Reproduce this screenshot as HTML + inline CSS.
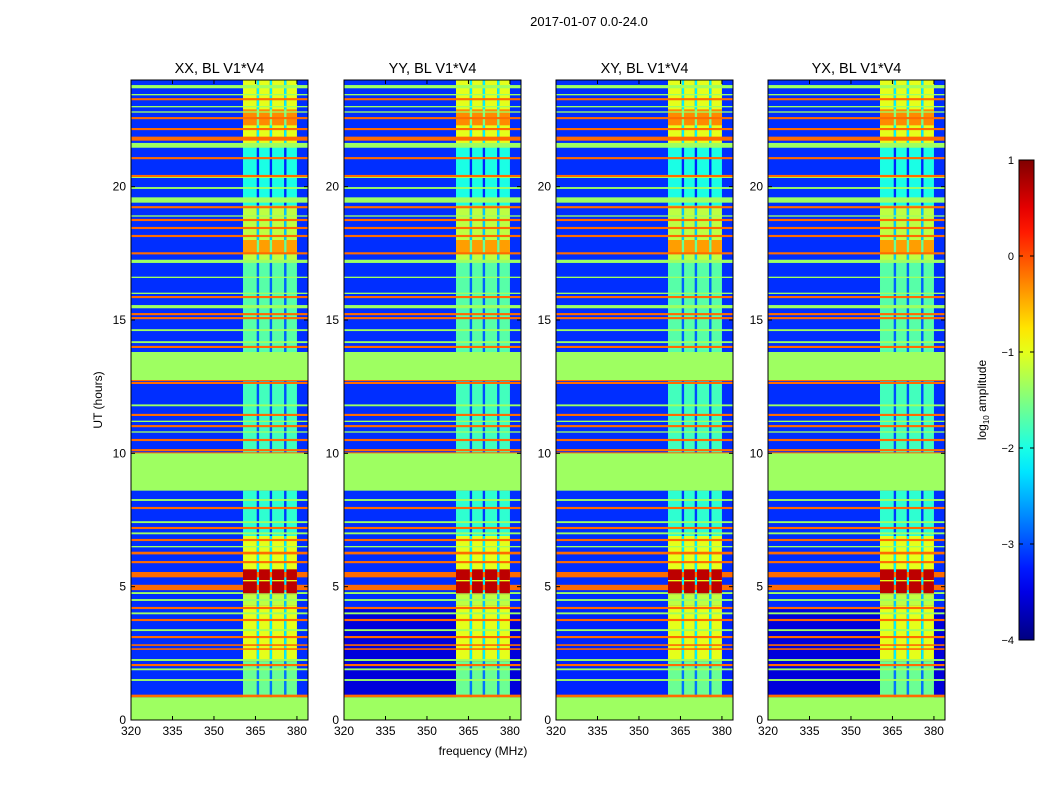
<!DOCTYPE html>
<html><head><meta charset="utf-8">
<style>
body{margin:0;background:#fff;font-family:"Liberation Sans",sans-serif;}
svg text{font-family:"Liberation Sans",sans-serif;fill:#000;}
</style></head>
<body>
<svg id="fig" width="1050" height="800" viewBox="0 0 1050 800" xmlns="http://www.w3.org/2000/svg">
<rect width="1050" height="800" fill="#fff"/>
<text x="589" y="26" font-size="13" text-anchor="middle">2017-01-07 0.0-24.0</text>
</svg>
<script>
const panelTitles = ["XX, BL V1*V4","YY, BL V1*V4","XY, BL V1*V4","YX, BL V1*V4"];
const xTicks = [320,335,350,365,380];
const yTicks = [0,5,10,15,20];
const cbTicks = [1,0,-1,-2,-3,-4];
const cbTickLabels = ["1","0","\u22121","\u22122","\u22123","\u22124"];
const panelBg = [-3.15,-3.15,-3.15,-3.15];
const panelLowBg = [-3.15,-3.55,-3.2,-3.55];
const lowRange = [0.9,4.2];
const bandCols = [[360.5,365.5],[366.3,370.2],[371,375.4],[376.2,380]];
const bandGaps = [[365.5,366.3],[370.2,371],[375.4,376.2]];
const bandSegs = [[0.85,2.2,-1.6],[2.2,4.3,-1.0],[4.3,4.7,-1.2],[4.7,5.7,-1.0],[5.7,6.9,-1.0],[6.9,8.6,-1.9],[10,12.7,-1.8],[13.8,17.2,-1.7],[17.2,19.3,-1.2],[17.5,18.0,-0.4],[19.3,21.5,-2.0],[21.5,24,-1.0],[22.3,22.9,-0.3]];
const orangeLines = [[23.28,0.08],[22.57,0.08],[22.16,0.08],[21.8,0.15],[21.07,0.08],[20.4,0.08],[19.23,0.08],[18.75,0.08],[18.45,0.08],[18.15,0.08],[17.5,0.08],[15.86,0.08],[15.22,0.08],[15.07,0.08],[13.99,0.08],[13.16,0.08],[12.75,0.08],[12.64,0.08],[11.44,0.08],[11.02,0.08],[10.5,0.08],[10.12,0.08],[10.01,0.06],[7.95,0.08],[7.2,0.08],[6.75,0.08],[6.26,0.1],[5.92,0.08],[5.45,0.2],[4.97,0.2],[4.2,0.08],[3.75,0.08],[3.11,0.08],[2.81,0.06],[2.66,0.06],[2.06,0.08],[0.9,0.1]];
const orangeValue = -0.15;
const greenLines = [[23.75,0.12],[23.45,0.05],[23.0,0.05],[22.8,0.05],[21.55,0.18],[20.36,0.07],[19.95,0.07],[19.5,0.2],[18.9,0.05],[17.2,0.12],[16.6,0.05],[16.0,0.05],[15.5,0.12],[14.62,0.07],[14.17,0.07],[11.8,0.07],[11.2,0.05],[10.8,0.05],[8.25,0.07],[7.42,0.07],[7.0,0.07],[6.5,0.05],[4.76,0.07],[4.5,0.07],[4.0,0.07],[3.37,0.07],[2.25,0.07],[1.9,0.07],[1.5,0.07]];
const greenValue = -1.35;
const greenBlocks = [[0,0.85],[8.6,10.0],[12.75,13.8]];
const hotSegs = [[4.75,5.2,0.7],[5.25,5.65,0.7]];

const vmin=-4, vmax=1;
function jet(v){
  let t=(v-vmin)/(vmax-vmin); t=Math.max(0,Math.min(1,t));
  const c=x=>Math.round(255*Math.max(0,Math.min(1,x)));
  return `rgb(${c(1.5-Math.abs(4*t-3))},${c(1.5-Math.abs(4*t-2))},${c(1.5-Math.abs(4*t-1))})`;
}
const svg=document.getElementById('fig');
const NS="http://www.w3.org/2000/svg";
function mk(tag,attrs,parent){const e=document.createElementNS(NS,tag);for(const k in attrs)e.setAttribute(k,attrs[k]);(parent||svg).appendChild(e);return e;}
const px=[131,344,556,768], pw=177, ptop=80, pbot=720;
const fmin=320,fmax=384,hmin=0,hmax=24;
panelTitles.forEach((title,i)=>{
  const x0=px[i];
  const xs=f=>x0+(f-fmin)/(fmax-fmin)*pw;
  const ys=h=>pbot-(h-hmin)/(hmax-hmin)*(pbot-ptop);
  const g=mk('g',{});
  
  
  const bg=mk('rect',{x:x0,y:ptop,width:pw,height:pbot-ptop,fill:jet(panelBg[i])},g);
  
  
  const lo=mk('rect',{x:x0,y:ys(lowRange[1]),width:pw,height:ys(lowRange[0])-ys(lowRange[1]),fill:jet(panelLowBg[i])},g);
  
  
  bandSegs.forEach(s=>{
    bandCols.forEach(c=>{
      const r=mk('rect',{x:xs(c[0]),y:ys(s[1]),width:xs(c[1])-xs(c[0]),height:ys(s[0])-ys(s[1]),fill:jet(s[2])},g);
      
      
    });
    bandGaps.forEach(c=>{
      const r=mk('rect',{x:xs(c[0]),y:ys(s[1]),width:xs(c[1])-xs(c[0]),height:ys(s[0])-ys(s[1]),fill:jet(s[2]-1.2)},g);
      
      
    });
  });
  greenLines.forEach(l=>{
    const r=mk('rect',{x:x0,y:ys(l[0]+l[1]/2),width:pw,height:Math.max(1,l[1]*(pbot-ptop)/24),fill:jet(greenValue)},g);
    
    
  });
  orangeLines.forEach(l=>{
    const r=mk('rect',{x:x0,y:ys(l[0]+l[1]/2),width:pw,height:Math.max(1,l[1]*(pbot-ptop)/24),fill:jet(orangeValue)},g);
    
    
  });
  greenBlocks.forEach(b=>{
    const r=mk('rect',{x:x0,y:ys(b[1]),width:pw,height:ys(b[0])-ys(b[1]),fill:jet(greenValue)},g);
    
    
  });
  hotSegs.forEach(s=>{bandCols.forEach(c=>{
    const r=mk('rect',{x:xs(c[0]),y:ys(s[1]),width:xs(c[1])-xs(c[0]),height:ys(s[0])-ys(s[1]),fill:jet(s[2])},g);
    
    
  });});
  const fr=mk('rect',{x:x0,y:ptop,width:pw,height:pbot-ptop,fill:'none',stroke:'#000','stroke-width':1},g);
  
  
  xTicks.forEach(t=>{
    const x=xs(t);
    mk('line',{x1:x,x2:x,y1:pbot,y2:pbot-4,stroke:'#000'},g);
    mk('line',{x1:x,x2:x,y1:ptop,y2:ptop+4,stroke:'#000'},g);
    const tx=mk('text',{x:x,y:pbot+15,'font-size':12,'text-anchor':'middle'},g);
    tx.textContent=t;
    
    
  });
  yTicks.forEach(t=>{
    const y=ys(t);
    mk('line',{x1:x0,x2:x0+4,y1:y,y2:y,stroke:'#000'},g);
    mk('line',{x1:x0+pw,x2:x0+pw-4,y1:y,y2:y,stroke:'#000'},g);
    const tx=mk('text',{x:x0-5,y:y+4,'font-size':12,'text-anchor':'end'},g);
    tx.textContent=t;
    
    
  });
  const tt=mk('text',{x:x0+pw/2,y:73,'font-size':14.5,'text-anchor':'middle'},g);
  tt.textContent=title;
  
  
});
const yl=mk('text',{x:102,y:400,'font-size':12,'text-anchor':'middle',transform:'rotate(-90 102 400)'});
yl.textContent='UT (hours)';


const xl=mk('text',{x:483,y:755,'font-size':12,'text-anchor':'middle'});
xl.textContent='frequency (MHz)';


const defs=mk('defs',{});
const grad=mk('linearGradient',{id:'jetg',x1:0,y1:1,x2:0,y2:0},defs);
for(let k=0;k<=20;k++){mk('stop',{offset:k/20,'stop-color':jet(vmin+(vmax-vmin)*k/20)},grad);}
const cbx=1019,cbw=15,cbt=160,cbb=640;
const cb=mk('rect',{x:cbx,y:cbt,width:cbw,height:cbb-cbt,fill:'url(#jetg)',stroke:'#000'});


const cys=v=>cbb-(v-vmin)/(vmax-vmin)*(cbb-cbt);
cbTicks.forEach((v,k)=>{
  const y=cys(v);
  mk('line',{x1:cbx,x2:cbx+4,y1:y,y2:y,stroke:'#000'});
  mk('line',{x1:cbx+cbw,x2:cbx+cbw-4,y1:y,y2:y,stroke:'#000'});
  const tx=mk('text',{x:cbx-5,y:y+4,'font-size':11,'text-anchor':'end'});
  tx.textContent=cbTickLabels[k];
  
  
});
const cl=mk('text',{x:986,y:400,'font-size':12,'text-anchor':'middle',transform:'rotate(-90 986 400)'});
cl.innerHTML='log<tspan font-size="8" dy="3">10</tspan><tspan dy="-3"> amplitude</tspan>';


</script>
</body></html>
